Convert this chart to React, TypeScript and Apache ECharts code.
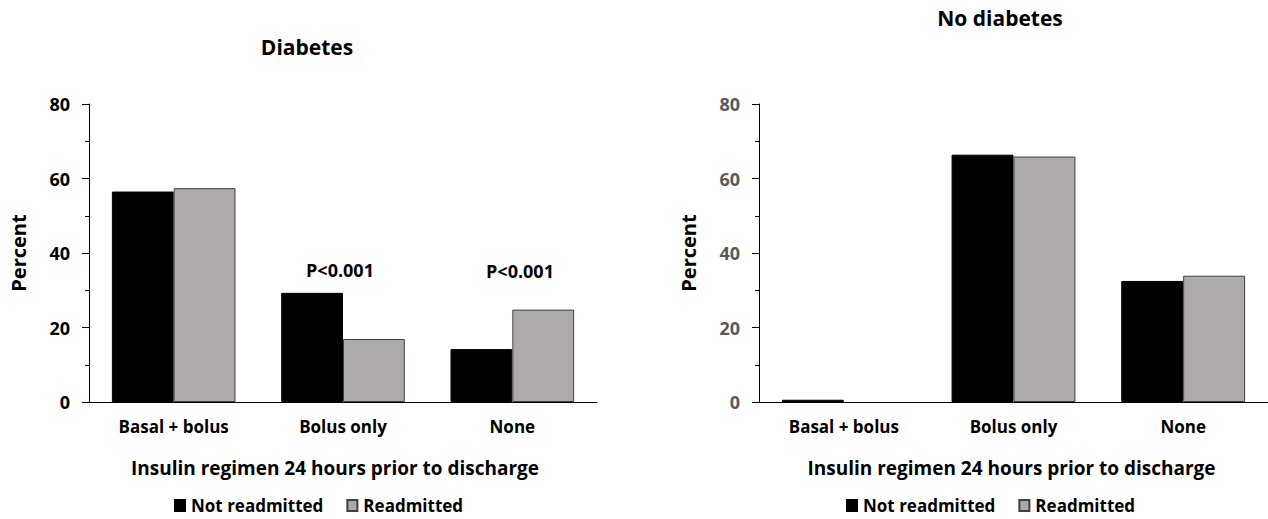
import React, { useEffect, useRef } from "react";
import * as echarts from "echarts";

const categories = ["Basal + bolus", "Bolus only", "None"];
const diabetesNotReadmitted = [56.5, 29.3, 14.2];
const diabetesReadmitted = [57.4, 16.9, 24.8];
const noDiabetesNotReadmitted = [0.6, 66.4, 32.5];
const noDiabetesReadmitted = [0, 65.9, 33.9];
const yTicks = [0, 20, 40, 60, 80];
const pLabels = ["P<0.001", "P<0.001"];
const seriesNames = ["Not readmitted", "Readmitted"];
const titles = ["Diabetes", "No diabetes"];
const xAxisTitle = "Insulin regimen 24 hours prior to discharge";
const yAxisTitle = "Percent";

const FONT = "'Open Sans'";
const BLACK = "#000000";
const GRAY = "#AEAAAA";

export default function App() {
  const ref = useRef<HTMLDivElement>(null);
  useEffect(() => {
    if (!ref.current) return;
    const chart = echarts.init(ref.current, undefined, { renderer: "svg" });
    const yAxisBase = (labelColor: string, gridIndex: number) => ({
      type: "value" as const,
      gridIndex,
      min: yTicks[0],
      max: yTicks[yTicks.length - 1],
      interval: 20,
      name: yAxisTitle,
      nameLocation: "middle" as const,
      nameGap: 61,
      nameRotate: 90,
      nameTextStyle: { fontFamily: FONT, fontWeight: "bold", fontSize: 20, color: "#000" },
      axisLine: { show: true, lineStyle: { color: "#000", width: 1 } },
      axisTick: { show: true, length: 7, lineStyle: { color: "#000" } },
      minorTick: { show: true, splitNumber: 2, length: 4, lineStyle: { color: "#000" } },
      splitLine: { show: false },
      axisLabel: { fontFamily: FONT, fontWeight: "bold", fontSize: 18, color: labelColor, margin: 19 },
    });
    const xAxisBase = (gridIndex: number, shift: number) => ({
      type: "category" as const,
      gridIndex,
      data: categories,
      name: xAxisTitle,
      nameLocation: "middle" as const,
      nameGap: 56,
      nameTextStyle: { fontFamily: FONT, fontWeight: "bold", fontSize: 19, color: "#000", padding: [0, shift, 0, 0] },
      axisLine: { lineStyle: { color: "#000", width: 1 } },
      axisTick: { show: false },
      axisLabel: { fontFamily: FONT, fontWeight: "bold", fontSize: 17, color: "#000", margin: 16 },
    });
    const toData = (vals: number[], border: string) =>
      vals.map((v) => ({ value: v, itemStyle: { borderColor: border, borderWidth: v === 0 ? 0 : 1 } }));
    const barSeries = (name: string, data: number[], idx: number, color: string, border: string) => ({
      type: "bar" as const,
      name,
      data: toData(data, border),
      xAxisIndex: idx,
      yAxisIndex: idx,
      barGap: "0%",
      barCategoryGap: "27%",
      itemStyle: { color, borderColor: border, borderWidth: 1 },
    });
    const legendBase = (left: number) => ({
      left,
      top: 492,
      itemWidth: 10,
      itemHeight: 11,
      itemGap: 23,
      icon: "rect",
      data: seriesNames,
      textStyle: { fontFamily: FONT, fontWeight: "bold", fontSize: 17, color: "#000", padding: [0, 0, 0, 1] },
    });
    const titleStyle = { fontFamily: FONT, fontWeight: "bold" as const, fontSize: 21, color: "#000" };
    chart.setOption({
      animation: false,
      textStyle: { fontFamily: FONT },
      title: [
        { text: titles[0], left: 302, top: 31, textAlign: "center", textStyle: titleStyle },
        { text: titles[1], left: 995, top: 2, textAlign: "center", textStyle: titleStyle },
      ],
      grid: [
        { left: 89, top: 104, width: 508, height: 298 },
        { left: 759, top: 104, width: 510, height: 298 },
      ],
      xAxis: [xAxisBase(0, 16), xAxisBase(1, 4)],
      yAxis: [yAxisBase("#000", 0), yAxisBase("#595959", 1)],
      legend: [legendBase(169), legendBase(841)],
      series: [
        barSeries(seriesNames[0], diabetesNotReadmitted, 0, BLACK, "#000"),
        barSeries(seriesNames[1], diabetesReadmitted, 0, GRAY, "#404040"),
        barSeries(seriesNames[0], noDiabetesNotReadmitted, 1, BLACK, "#000"),
        barSeries(seriesNames[1], noDiabetesReadmitted, 1, GRAY, "#404040"),
      ],
      graphic: [
        { type: "text", x: 340, y: 270, style: { text: pLabels[0], font: `bold 18px ${FONT}`, fill: "#000", textAlign: "center", textVerticalAlign: "middle" } },
        { type: "text", x: 520, y: 271, style: { text: pLabels[1], font: `bold 18px ${FONT}`, fill: "#000", textAlign: "center", textVerticalAlign: "middle" } },
      ],
    });
    return () => chart.dispose();
  }, []);
  return <div ref={ref} style={{ position: "absolute", left: 0, top: 0, width: 1268, height: 519, background: "#fff" }} />;
}
